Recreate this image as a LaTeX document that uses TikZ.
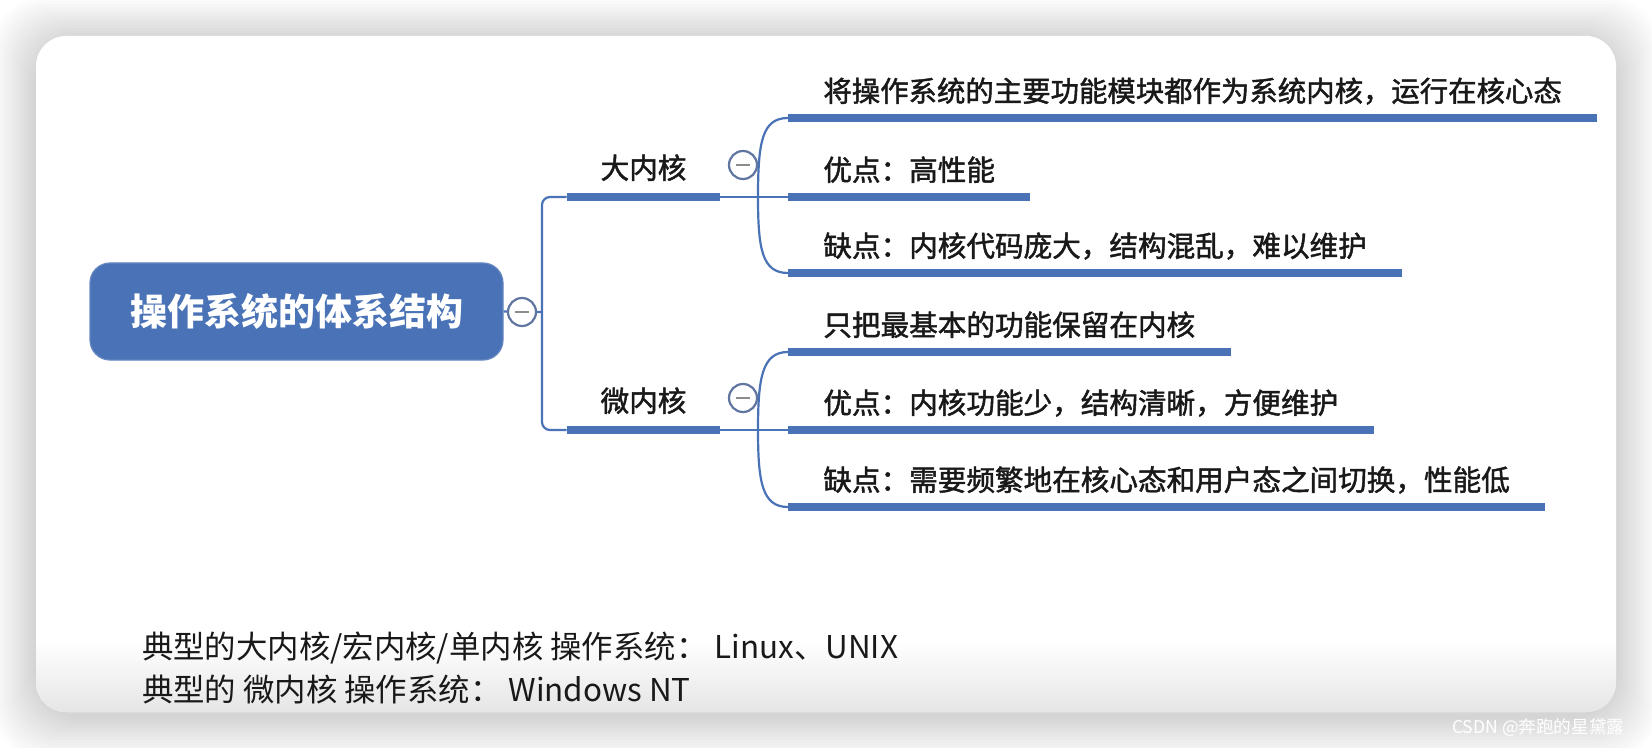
\documentclass[tikz,border=0pt]{standalone}
\usepackage{fontspec}
\setmainfont{Noto Sans CJK SC}
\newfontfamily\mapfont[FakeBold=1.6]{Noto Sans CJK SC}
\usetikzlibrary{positioning}

\definecolor{mapblue}{RGB}{74,114,182}
\definecolor{foldline}{RGB}{96,118,160}

\begin{document}
\begin{tikzpicture}[
    x=0.5pt, y=-0.5pt,
    rootbox/.style={
        rectangle, rounded corners=10pt,
        minimum width=206.5pt, minimum height=48.5pt,
        fill=mapblue, draw=mapblue!85!white, line width=0.6pt,
        text=white, font=\fontsize{18.5pt}{22pt}\selectfont\bfseries
    },
    topic/.style={
        rectangle, inner sep=0pt, anchor=south,
        minimum width=76.5pt, minimum height=27pt,
        text height=11.5pt, text depth=2.5pt,
        text=black!90, font=\mapfont\fontsize{14.3pt}{17pt}\selectfont
    },
    leaf/.style={
        rectangle, inner xsep=17.5pt, inner ysep=0pt, anchor=south west,
        minimum height=25pt,
        text height=11.5pt, text depth=2.5pt,
        text=black!90, font=\mapfont\fontsize{14.3pt}{17pt}\selectfont
    },
    fold/.style={
        circle, minimum size=14pt, inner sep=0pt,
        draw=foldline, line width=1.1pt, fill=white,
        path picture={\draw[black!45, line width=1.2pt]
            ([xshift=-3.5pt]path picture bounding box.center) --
            ([xshift=3.5pt]path picture bounding box.center);}
    },
    note/.style={anchor=west, text=black!90, font=\fontsize{15.7pt}{19pt}\selectfont},
    ul/.style={mapblue, line width=4pt},
    link/.style={mapblue, line width=1.1pt}
]

\useasboundingbox (0,0) rectangle (1652,748);

% card and its shadow
\foreach \s in {3,6,...,42}
    \fill[black, opacity=0.012, rounded corners=24pt]
        (36-\s,36-\s+4) rectangle (1616+\s,712+\s+4);
\fill[white, rounded corners=15pt] (36,36) rectangle (1616,712);
\begin{scope}
    \clip[rounded corners=15pt] (36,36) rectangle (1616,712);
    \shade[top color=white, bottom color=black!10] (36,640) rectangle (1616,712);
\end{scope}

\node[rootbox] at (296.5,311.5) (root) {操作系统的体系结构};

\node[topic] at (643.5,197) (big)   {大内核};
\node[topic] at (643.5,430) (micro) {微内核};

\node[leaf, font=\mapfont\fontsize{14.2pt}{17pt}\selectfont] at (788,118) (s1) {将操作系统的主要功能模块都作为系统内核，运行在核心态};
\node[leaf] at (788,197) (s2) {优点：高性能};
\node[leaf] at (788,273) (s3) {缺点：内核代码庞大，结构混乱，难以维护};

\node[leaf] at (788,352) (s4) {只把最基本的功能保留在内核};
\node[leaf] at (788,430) (s5) {优点：内核功能少，结构清晰，方便维护};
\node[leaf] at (788,507) (s6) {缺点：需要频繁地在核心态和用户态之间切换，性能低};

\coordinate (j0) at (542,312);
\coordinate (jb) at (758,197);
\coordinate (jm) at (758,430);

% underlines
\foreach \n in {big,micro,s1,s2,s3,s4,s5,s6}
    \draw[ul] (\n.south west) -- (\n.south east);

% connectors
\draw[link] (root.east) -- (j0);
\draw[link, rounded corners=4pt] (big.south west) -| (j0) |- (micro.south west);

\draw[link] (big.south east) -- (s2.south west);
\draw[link] (jb) .. controls +(0,-55) and +(-26,0) .. (s1.south west);
\draw[link] (jb) .. controls +(0,52) and +(-26,0) .. (s3.south west);

\draw[link] (micro.south east) -- (s5.south west);
\draw[link] (jm) .. controls +(0,-52) and +(-26,0) .. (s4.south west);
\draw[link] (jm) .. controls +(0,52) and +(-26,0) .. (s6.south west);

\node[fold] at (522,312) (f0) {};
\node[fold] at (743,165) (f1) {};
\node[fold] at (743,398) (f2) {};

\node[note] at (135,648) (n1) {典型的大内核/宏内核/单内核 操作系统： Linux、UNIX};
\node[note] at (135,690) (n2) {典型的 微内核 操作系统： Windows NT};

\node[anchor=west, text=white, font=\fontsize{8.8pt}{10pt}\selectfont] at (1445,728) (mark) {CSDN @奔跑的星黛露};

\end{tikzpicture}
\end{document}
